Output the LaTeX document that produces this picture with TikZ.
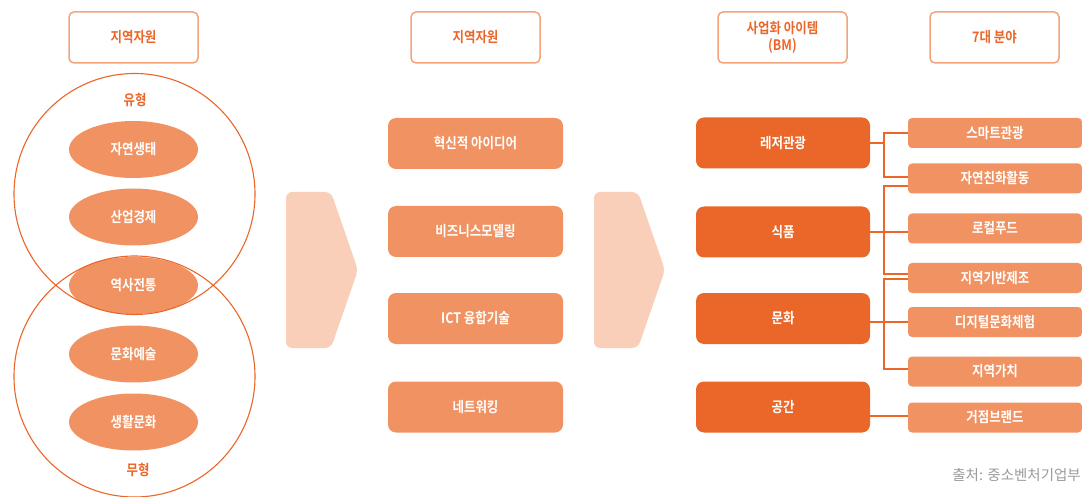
\documentclass[tikz,border=0pt]{standalone}
\usepackage{fontspec}
\setmainfont{Noto Sans CJK KR}
\newfontfamily\krb{Noto Sans CJK KR Bold}[FakeStretch=0.86]
\usetikzlibrary{shapes.geometric,calc}
\definecolor{dk}{HTML}{EB6629}
\definecolor{md}{HTML}{F09262}
\definecolor{lt}{HTML}{F9CFB9}
\definecolor{hb}{HTML}{F3A47D}
\definecolor{src}{HTML}{9A9A9A}
\tikzset{
  lab/.style={font=\krb\fontsize{14.5}{17}\selectfont},
  hdr/.style={draw=hb, line width=1.5pt, rounded corners=5pt, minimum width=129pt, minimum height=51pt, text=dk, lab, align=center, inner sep=0pt},
  ell/.style={ellipse, fill=md, minimum width=129pt, minimum height=57pt, text=white, lab, inner sep=0pt},
  midbox/.style={fill=md, rounded corners=8pt, minimum width=175pt, minimum height=51pt, text=white, lab, inner sep=0pt},
  bmbox/.style={fill=dk, rounded corners=8pt, minimum width=174pt, minimum height=51pt, text=white, lab, inner sep=0pt},
  fbox/.style={fill=md, rounded corners=4pt, minimum width=174pt, minimum height=30pt, text=white, lab, inner sep=0pt},
  conn/.style={draw=dk, line width=2pt},
  circ/.style={draw=dk, line width=1.1pt},
  lbl/.style={text=dk, lab, inner sep=0pt},
  chev/.style={fill=lt, rounded corners=6pt}
}
\begin{document}
\begin{tikzpicture}[x=1pt,y=-1pt]
\useasboundingbox (0,0) rectangle (1082,497);
% headers
\node[hdr] (h1) at (133.5,37.5) {지역자원};
\node[hdr] (h2) at (475.5,37.5) {지역자원};
\node[hdr] (h3) at (782.5,37.5) {사업화 아이템\\(BM)};
\node[hdr] (h4) at (994.5,37.5) {7대 분야};
% ellipses
\node[ell] (e1) at (133.5,149.5) {자연생태};
\node[ell] (e2) at (133.5,217) {산업경제};
\node[ell] (e3) at (133.5,285.5) {역사전통};
\node[ell] (e4) at (133.5,354) {문화예술};
\node[ell] (e5) at (133.5,422) {생활문화};
% circles
\node[circle, circ, minimum size=241pt, inner sep=0pt] (c1) at (134.5,194) {};
\node[circle, circ, minimum size=241pt, inner sep=0pt] (c2) at (134.5,376.5) {};
\node[lbl] (l1) at (135,100) {유형};
\node[lbl] (l2) at (138,470) {무형};
% chevrons
\fill[chev] (286,192) -- (331,192) -- (358,270) -- (331,348) -- (286,348) -- cycle;
\fill[chev] (594,192) -- (638,192) -- (665,270) -- (638,348) -- (594,348) -- cycle;
% middle boxes
\node[midbox] (m1) at (475.5,143.5) {혁신적 아이디어};
\node[midbox] (m2) at (475.5,231.5) {비즈니스모델링};
\node[midbox] (m3) at (475.5,318.5) {ICT 융합기술};
\node[midbox] (m4) at (475.5,407) {네트워킹};
% BM boxes
\node[bmbox] (b1) at (783,143) {레저관광};
\node[bmbox] (b2) at (783,232) {식품};
\node[bmbox] (b3) at (783,318.5) {문화};
\node[bmbox] (b4) at (783,407) {공간};
% field boxes
\node[fbox] (f1) at (995,133) {스마트관광};
\node[fbox] (f2) at (995,178.5) {자연친화활동};
\node[fbox] (f3) at (995,228.5) {로컬푸드};
\node[fbox] (f4) at (995,278) {지역기반제조};
\node[fbox] (f5) at (995,322) {디지털문화체험};
\node[fbox] (f6) at (995,371.5) {지역가치};
\node[fbox] (f7) at (995,417.5) {거점브랜드};
% connectors
\coordinate (bx) at (884,0);
\draw[conn] (b1.east) -- (b1.east -| bx);
\draw[conn] (f1.west) -- (f1.west -| bx) -- ([yshift=1.5pt]f2.west -| bx) -- ([yshift=1.5pt]f2.west);
\draw[conn] ([yshift=-7.5pt]f2.west) -- ([yshift=-7.5pt]f2.west -| bx) -- ([yshift=4pt]f4.west -| bx) -- ([yshift=4pt]f4.west);
\draw[conn] (b2.east) -- (b2.east -| f3.west);
\draw[conn] ([yshift=-1pt]f4.west) -- ([yshift=-1pt]f4.west -| bx) -- ([yshift=2.5pt]f6.west -| bx) -- ([yshift=2.5pt]f6.west);
\draw[conn] (f5.west) -- (f5.west -| b3.east);
\draw[conn] ([yshift=1.5pt]f7.west) -- ([yshift=1.5pt]f7.west -| b4.east);
% source
\node[text=src, font=\fontsize{14.5}{16}\selectfont, anchor=east, inner sep=0pt] (s) at (1081,475) {출처: 중소벤처기업부};
\end{tikzpicture}
\end{document}
